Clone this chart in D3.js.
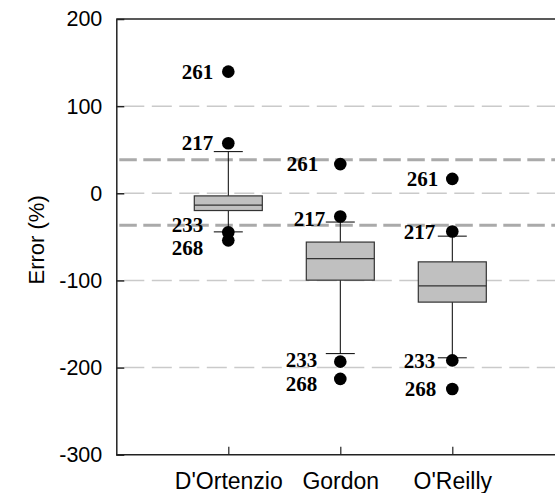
<!DOCTYPE html>
<html>
<head>
<meta charset="utf-8">
<script src="https://cdn.jsdelivr.net/npm/d3@7"></script>
<style>
  body { margin: 0; background: #fff; }
  svg { display: block; }
  .axis text { font-family: Arial, "Liberation Sans", sans-serif; fill: #000; }
  .lbl { font-family: "Times New Roman", "Liberation Serif", serif; font-weight: bold; font-size: 21px; fill: #000; }
</style>
</head>
<body>
<svg id="chart" width="555" height="493"></svg>
<script>
// box plot values
const categories = ["D'Ortenzio", 'Gordon', "O'Reilly"];
const upperWhisker = [47.8, -33, -49.2];
const q3 = [-3, -56, -78.7];
const median = [-13.7, -74.9, -106.2];
const q1 = [-19.8, -99.7, -124.9];
const lowerWhisker = [-44.3, -184, -188.8];

// labelled outliers, one value per category
const outlierIds = ['261', '217', '233', '268'];
const outlier261 = [139.6, 33.5, 16.5];
const outlier217 = [57.4, -26.7, -43.9];
const outlier233 = [-44.8, -193.2, -191.8];
const outlier268 = [-54, -213, -224.6];

const yTicks = [200, 100, 0, -100, -200, -300];
const limitLines = [38.6, -36.6];

// label nudges (px) so the numbers sit where the original put them
const labelDx = { '261': [-15, -22, -14], '217': [-15, -15, -17], '233': [-25, -23, -17], '268': [-25, -23, -16] };
const labelDy = { '261': [0, 0, 0], '217': [0, 2, 0], '233': [-7, -2, 0], '268': [8, 5, 0] };

const plotLeft = 116.3, plotTop = 19, plotBottom = 454.7, plotRight = 564.3;

const svg = d3.select('#chart');
const y = d3.scaleLinear().domain([-300, 200]).range([plotBottom, plotTop]);
const x = d3.scalePoint().domain(categories).range([plotLeft, plotRight]).padding(1);

// grid lines
svg.selectAll('line.grid')
  .data([100, 0, -100, -200])
  .enter().append('line')
  .attr('class', 'grid')
  .attr('x1', plotLeft + 8).attr('x2', 560)
  .attr('y1', d => y(d)).attr('y2', d => y(d))
  .attr('stroke', '#cacaca').attr('stroke-width', 1.5)
  .attr('stroke-dasharray', '20,7.5');

svg.selectAll('line.limit')
  .data(limitLines)
  .enter().append('line')
  .attr('class', 'limit')
  .attr('x1', plotLeft + 3).attr('x2', 560)
  .attr('y1', d => y(d)).attr('y2', d => y(d))
  .attr('stroke', '#aaa').attr('stroke-width', 3)
  .attr('stroke-dasharray', '17.5,6.5');

// frame
svg.append('line')
  .attr('x1', plotLeft).attr('x2', 560).attr('y1', plotTop).attr('y2', plotTop)
  .attr('stroke', '#222').attr('stroke-width', 1.5);

const yAxis = d3.axisLeft(y).tickValues(yTicks).tickFormat(d => String(d))
  .tickSizeInner(-8).tickSizeOuter(0).tickPadding(14);
const gy = svg.append('g').attr('class', 'axis')
  .attr('transform', `translate(${plotLeft},0)`)
  .call(yAxis);
gy.select('.domain').attr('stroke', '#222').attr('stroke-width', 1.5);
gy.selectAll('.tick line').attr('stroke', '#222').attr('stroke-width', 1.5);
gy.selectAll('.tick text').attr('font-size', 21.5);

const xAxis = d3.axisBottom(x).tickSizeInner(-8).tickSizeOuter(0);
const gx = svg.append('g').attr('class', 'axis')
  .attr('transform', `translate(0,${plotBottom})`)
  .call(xAxis);
gx.select('.domain').attr('d', `M${plotLeft},0H560`).attr('stroke', '#222').attr('stroke-width', 1.5);
gx.selectAll('.tick line').attr('stroke', '#222').attr('stroke-width', 1.2);
gx.selectAll('.tick text').attr('font-size', 23).attr('y', 34).attr('dy', 0);

svg.append('text')
  .attr('class', 'axis')
  .attr('transform', `translate(44,${(plotTop + plotBottom) / 2 + 3}) rotate(-90)`)
  .attr('text-anchor', 'middle')
  .attr('font-family', 'Arial, "Liberation Sans", sans-serif')
  .attr('font-size', 22)
  .text('Error (%)');

// boxes
const boxW = 68, capW = 29;
const boxes = categories.map((c, i) => ({
  c, hi: upperWhisker[i], q3: q3[i], med: median[i], q1: q1[i], lo: lowerWhisker[i]
}));

const g = svg.selectAll('g.box').data(boxes).enter().append('g').attr('class', 'box');
g.append('line')
  .attr('x1', d => x(d.c)).attr('x2', d => x(d.c))
  .attr('y1', d => y(d.hi)).attr('y2', d => y(d.lo))
  .attr('stroke', '#000').attr('stroke-width', 1);
g.selectAll('line.cap')
  .data(d => [d.hi, d.lo].map(v => ({ c: d.c, v })))
  .enter().append('line')
  .attr('class', 'cap')
  .attr('x1', d => x(d.c) - capW / 2).attr('x2', d => x(d.c) + capW / 2)
  .attr('y1', d => y(d.v)).attr('y2', d => y(d.v))
  .attr('stroke', '#000').attr('stroke-width', 1);
g.append('rect')
  .attr('x', d => x(d.c) - boxW / 2).attr('width', boxW)
  .attr('y', d => y(d.q3)).attr('height', d => y(d.q1) - y(d.q3))
  .attr('fill', '#c0c0c0').attr('stroke', '#333').attr('stroke-width', 1.2);
g.append('line')
  .attr('x1', d => x(d.c) - boxW / 2).attr('x2', d => x(d.c) + boxW / 2)
  .attr('y1', d => y(d.med)).attr('y2', d => y(d.med))
  .attr('stroke', '#333').attr('stroke-width', 1.2);

// outliers and their labels
const outlierVals = { '261': outlier261, '217': outlier217, '233': outlier233, '268': outlier268 };
const points = [];
outlierIds.forEach(id => categories.forEach((c, i) => points.push({ id, c, i, v: outlierVals[id][i] })));

svg.selectAll('path.out').data(points).enter().append('path')
  .attr('class', 'out')
  .attr('transform', d => `translate(${x(d.c)},${y(d.v)})`)
  .attr('d', d3.symbol(d3.symbolCircle, 125))
  .attr('fill', '#000');

svg.selectAll('text.lbl').data(points).enter().append('text')
  .attr('class', 'lbl')
  .attr('x', d => x(d.c) + labelDx[d.id][d.i])
  .attr('y', d => y(d.v) + labelDy[d.id][d.i])
  .attr('dy', '0.34em')
  .attr('text-anchor', 'end')
  .text(d => d.id);
</script>
</body>
</html>
